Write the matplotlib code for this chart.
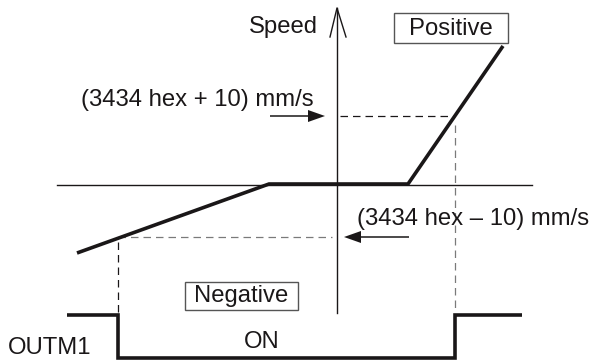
import matplotlib
matplotlib.use("Agg")
import matplotlib.pyplot as plt
from matplotlib.patches import Polygon

plt.rcParams['font.family'] = ['Liberation Sans', 'DejaVu Sans']

# Diagram data (drawing coordinates, y grows downward)
speed_curve_x = [77, 269, 408, 503]
speed_curve_y = [253, 184, 184, 46]

outm1_x = [67, 118, 118, 455, 455, 522]
outm1_y = [315, 315, 358, 358, 315, 315]

upper_threshold_y = 116
lower_threshold_y = 237
upper_cross_x = 455
lower_cross_x = 118

axis_x = 337
axis_top = 8
axis_bottom = 313
hline_y = 185
hline_x = [57, 532]

label_speed = "Speed"
label_positive = "Positive"
label_negative = "Negative"
label_upper = "(3434 hex + 10) mm/s"
label_lower = "(3434 hex \u2013 10) mm/s"
label_on = "ON"
label_outm1 = "OUTM1"

ink = "#1a1718"
dash_col = "#7a7a7a"
fs = 17.2

fig = plt.figure(figsize=(5.89, 3.60), dpi=100)
ax = fig.add_axes([0, 0, 1, 1])
ax.set_xlim(0, 589)
ax.set_ylim(360, 0)
ax.axis('off')

# axes
ax.plot([axis_x, axis_x], [axis_top, axis_bottom], color=ink, lw=1.0)
ax.plot([axis_x - 7, axis_x, axis_x + 9], [37, axis_top, 37], color=ink, lw=1.0)
ax.plot(hline_x, [hline_y, hline_y], color=ink, lw=1.0)

# dashed guide lines
ax.plot([axis_x + 3, upper_cross_x], [upper_threshold_y] * 2, color=ink, lw=0.9, dashes=(6, 4))
ax.plot([upper_cross_x, upper_cross_x], [upper_threshold_y + 9, 310], color=dash_col, lw=0.9, dashes=(6, 4))
ax.plot([lower_cross_x, axis_x - 5], [lower_threshold_y] * 2, color=dash_col, lw=0.9, dashes=(6, 4))
ax.plot([lower_cross_x, lower_cross_x], [lower_threshold_y + 5, 313], color=ink, lw=0.9, dashes=(6, 4))

# speed curve
ax.plot(speed_curve_x, speed_curve_y, color=ink, lw=2.6, solid_joinstyle='miter', solid_capstyle='butt')

# OUTM1 signal
ax.plot(outm1_x, outm1_y, color=ink, lw=2.6, solid_joinstyle='miter', solid_capstyle='butt')

# arrows
def arrow(x0, x1, y):
    d = 1 if x1 > x0 else -1
    hl = 17
    hw = 6
    ax.plot([x0, x1 - d * hl], [y, y], color=ink, lw=1.1, solid_capstyle='butt')
    ax.add_patch(Polygon([[x1, y], [x1 - d * hl, y - hw], [x1 - d * hl, y + hw]],
                         closed=True, facecolor=ink, edgecolor='none'))

arrow(270, 325, upper_threshold_y)
arrow(409, 344, lower_threshold_y)

# texts
ax.text(318, 27, label_speed, ha='right', va='center', fontsize=fs, color=ink)
ax.text(451, 29, label_positive, ha='center', va='center', fontsize=fs, color=ink)
ax.add_patch(plt.Rectangle((394, 13), 114, 30, fill=False, edgecolor='#555555', lw=1.0))
ax.text(241, 296, label_negative, ha='center', va='center', fontsize=fs, color=ink)
ax.add_patch(plt.Rectangle((185, 282), 113, 28, fill=False, edgecolor='#555555', lw=1.0))
ax.text(81, 100, label_upper, ha='left', va='center', fontsize=fs, color=ink)
ax.text(357, 219, label_lower, ha='left', va='center', fontsize=fs, color=ink)
ax.text(262, 342, label_on, ha='center', va='center', fontsize=fs, color=ink)
ax.text(8, 348, label_outm1, ha='left', va='center', fontsize=fs, color=ink)

fig.savefig("out.png", dpi=100)
